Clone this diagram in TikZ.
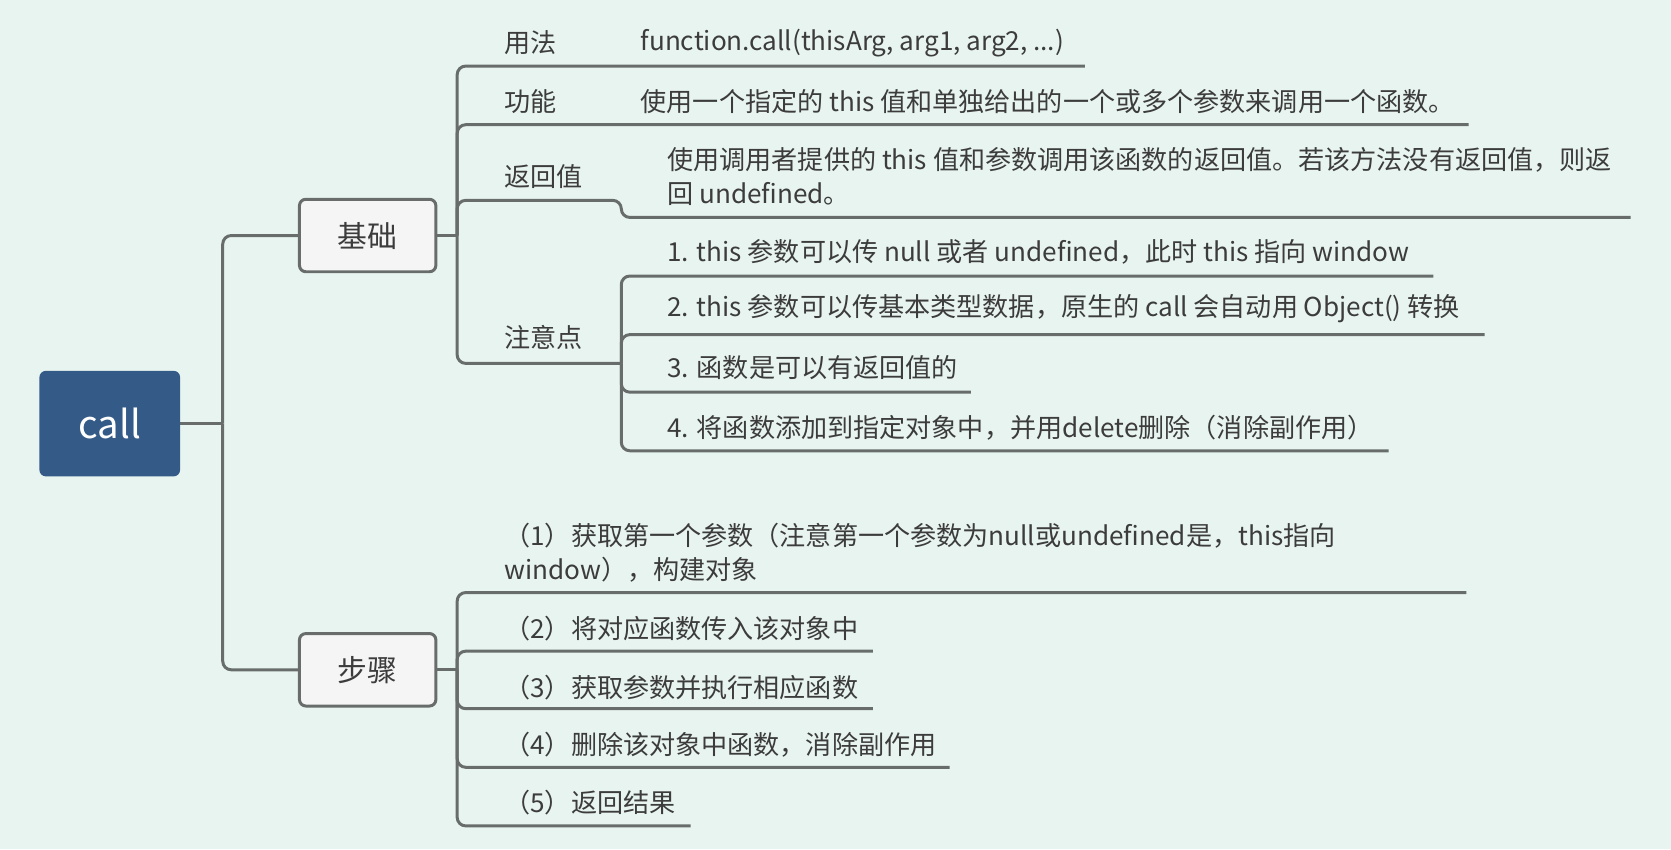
\documentclass[tikz,border=0pt]{standalone}
\usepackage{fontspec}
\setmainfont{Noto Sans CJK SC}
\definecolor{bg}{HTML}{E8F4F0}
\definecolor{rootc}{HTML}{345A87}
\definecolor{linec}{HTML}{686D6C}
\definecolor{boxf}{HTML}{F5F5F5}
\definecolor{txt}{HTML}{3C3C3C}
\begin{document}
\begin{tikzpicture}[x=1pt,y=-1pt,
  conn/.style={draw=linec,line width=2.8pt,rounded corners=8pt},
  stub/.style={draw=linec,line width=2.8pt},
  rootbox/.style={fill=rootc,rounded corners=6pt,minimum width=132pt,minimum height=99pt,text=white,font=\fontsize{36}{40}\selectfont,inner sep=0pt},
  mainbox/.style={draw=linec,line width=2.8pt,fill=boxf,rounded corners=6pt,minimum width=128pt,minimum height=68pt,text=txt,font=\fontsize{28}{32}\selectfont,inner sep=0pt},
  lbl/.style={anchor=west,inner sep=0pt,text=txt,font=\fontsize{24.5}{32}\selectfont,align=left},
]
\fill[bg] (0,0) rectangle (1568,797);
\useasboundingbox (0,0) rectangle (1568,797);

% main nodes
\node[rootbox] (root) at (103,397.5) {call};
\node[mainbox] (jc) at (345,221) {基础};
\node[mainbox] (bz) at (345,628.5) {步骤};

% labels level 2 (基础)
\node[lbl] (yf) at (473,40) {用法};
\node[lbl] (yfc) at (601,40) {function.call(thisArg, arg1, arg2, ...)};
\node[lbl] (gn) at (473,95) {功能};
\node[lbl] (gnc) at (601,95) {使用一个指定的 this 值和单独给出的一个或多个参数来调用一个函数。};
\node[lbl] (fhz) at (473,166) {返回值};
\node[lbl] (fhzc) at (626,166) {使用调用者提供的 this 值和参数调用该函数的返回值。若该方法没有返回值，则返\\回 undefined。};
\node[lbl] (zyd) at (473,317) {注意点};
\node[lbl] (z1) at (626,236) {1. this 参数可以传 null 或者 undefined，此时 this 指向 window};
\node[lbl] (z2) at (626,290) {2. this 参数可以传基本类型数据，原生的 call 会自动用 Object() 转换};
\node[lbl] (z3) at (626,345) {3. 函数是可以有返回值的};
\node[lbl] (z4) at (626,401) {4. 将函数添加到指定对象中，并用delete删除（消除副作用）};

% labels level 2 (步骤)
\node[lbl] (s1) at (473,519) {（1）获取第一个参数（注意第一个参数为null或undefined是，this指向\\window），构建对象};
\node[lbl] (s2) at (473,590) {（2）将对应函数传入该对象中};
\node[lbl] (s3) at (473,645) {（3）获取参数并执行相应函数};
\node[lbl] (s4) at (473,699) {（4）删除该对象中函数，消除副作用};
\node[lbl] (s5) at (473,753) {（5）返回结果};

% junctions and underline ends
\coordinate (rootJ) at (209,397.5);
\coordinate (jcJ) at (429,221);
\coordinate (bzJ) at (429,628.5);
\coordinate (yfE) at (1018,62);
\coordinate (gnE) at (1378,117);
\coordinate (fhzM) at (583,188);
\coordinate (fhzE) at (1530,204);
\coordinate (zydM) at (583,341);
\coordinate (z1E) at (1345,259);
\coordinate (z2E) at (1393,314);
\coordinate (z3E) at (911,368);
\coordinate (z4E) at (1303,423);
\coordinate (s1E) at (1376,556);
\coordinate (s2E) at (819,611);
\coordinate (s3E) at (819,665);
\coordinate (s4E) at (891,720);
\coordinate (s5E) at (648,775);

% connectors
\draw[stub] (root.east) -- (rootJ);
\draw[conn] (rootJ) |- (jc.west);
\draw[conn] (rootJ) |- (bz.west);

\draw[stub] (jc.east) -- (jcJ);
\draw[conn] (jcJ) |- (yfE);
\draw[conn] (jcJ) |- (gnE);
\draw[conn] (jcJ) |- (fhzM) |- (fhzE);
\draw[conn] (jcJ) |- (zydM);
\draw[conn] (zydM) |- (z1E);
\draw[conn] (zydM) |- (z2E);
\draw[conn] (zydM) |- (z3E);
\draw[conn] (zydM) |- (z4E);

\draw[stub] (bz.east) -- (bzJ);
\draw[conn] (bzJ) |- (s1E);
\draw[conn] (bzJ) |- (s2E);
\draw[conn] (bzJ) |- (s3E);
\draw[conn] (bzJ) |- (s4E);
\draw[conn] (bzJ) |- (s5E);
\end{tikzpicture}
\end{document}
